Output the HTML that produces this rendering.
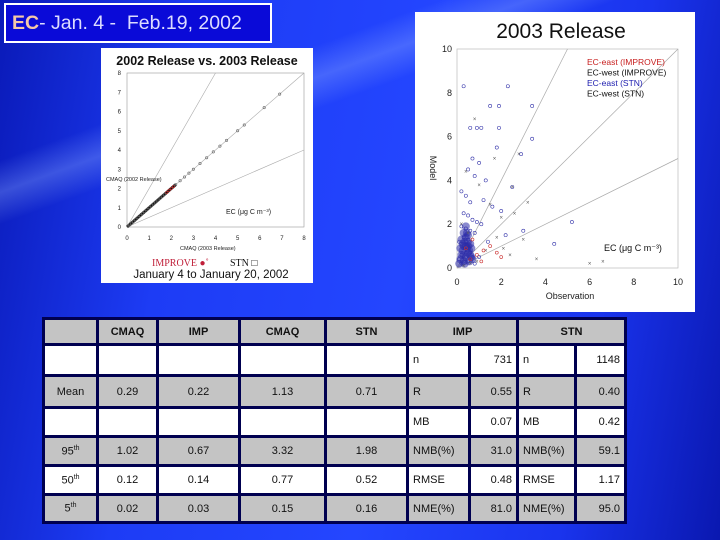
<!DOCTYPE html>
<html><head><meta charset="utf-8"><style>
body{margin:0;width:720px;height:540px;overflow:hidden;font-family:"Liberation Sans",sans-serif}
#bg{position:absolute;left:0;top:0;width:720px;height:540px;background:linear-gradient(100deg,#0a1ab8 0%,#1d3cf5 25%,#2446ff 55%,#1a34ee 80%,#0a18b0 100%)}
#streak{position:absolute;left:0;top:0;width:720px;height:540px;background:linear-gradient(160deg,rgba(255,255,255,0) 20%,rgba(140,170,255,0.35) 24%,rgba(255,255,255,0) 28%)}
#title{position:absolute;left:4px;top:3px;width:258px;height:36px;border:2px solid #fff;background:#0a0ad8;color:#dcdcff;font-size:19.5px;line-height:36px;padding-left:6px;box-sizing:content-box;white-space:nowrap}
#title b{color:#f5c8a8}
table{position:absolute;left:42px;top:317px;width:582px;height:204px;border-collapse:collapse;background:#000050;font-size:11px;color:#111;table-layout:fixed}
td{border:3px solid #000050;text-align:center;padding:0}
.g{background:#c4c4c4}.w{background:#fff}.h{font-weight:bold}
.l{text-align:left;padding-left:4px}.r{text-align:right;padding-right:4px}
</style></head><body>
<div id="bg"></div>
<div id="streak"></div>
<div id="title"><b>EC</b>- Jan. 4 -&nbsp; Feb.19, 2002</div>
<svg id="svg" width="720" height="540" style="position:absolute;left:0;top:0">
<rect x="101" y="48" width="212" height="235" fill="#fff"/>
<text x="207" y="65" font-size="12.5" text-anchor="middle" font-weight="bold" fill="#111">2002 Release vs. 2003 Release</text>
<rect x="415" y="12" width="280" height="300" fill="#fff"/>
<text x="561" y="38" font-size="21" text-anchor="middle" fill="#111">2003 Release</text>
<g id="inset"></g><g id="main"></g>
</svg>
<table>
<colgroup><col style="width:54px"><col style="width:60px"><col style="width:82px"><col style="width:86px"><col style="width:82px"><col style="width:62px"><col style="width:48px"><col style="width:58px"><col style="width:50px"></colgroup>
<tr style="height:26px" class="h"><td class="g"></td><td class="g">CMAQ</td><td class="g">IMP</td><td class="g">CMAQ</td><td class="g">STN</td><td class="g" colspan="2">IMP</td><td class="g" colspan="2">STN</td></tr>
<tr style="height:31px"><td class="w"></td><td class="w"></td><td class="w"></td><td class="w"></td><td class="w"></td><td class="w l">n</td><td class="w r">731</td><td class="w l">n</td><td class="w r">1148</td></tr>
<tr style="height:32px"><td class="g">Mean</td><td class="g">0.29</td><td class="g">0.22</td><td class="g">1.13</td><td class="g">0.71</td><td class="g l">R</td><td class="g r">0.55</td><td class="g l">R</td><td class="g r">0.40</td></tr>
<tr style="height:29px"><td class="w"></td><td class="w"></td><td class="w"></td><td class="w"></td><td class="w"></td><td class="w l">MB</td><td class="w r">0.07</td><td class="w l">MB</td><td class="w r">0.42</td></tr>
<tr style="height:29px"><td class="g">95<sup style="font-size:7px">th</sup></td><td class="g">1.02</td><td class="g">0.67</td><td class="g">3.32</td><td class="g">1.98</td><td class="g l">NMB(%)</td><td class="g r">31.0</td><td class="g l">NMB(%)</td><td class="g r">59.1</td></tr>
<tr style="height:29px"><td class="w">50<sup style="font-size:7px">th</sup></td><td class="w">0.12</td><td class="w">0.14</td><td class="w">0.77</td><td class="w">0.52</td><td class="w l">RMSE</td><td class="w r">0.48</td><td class="w l">RMSE</td><td class="w r">1.17</td></tr>
<tr style="height:28px"><td class="g">5<sup style="font-size:7px">th</sup></td><td class="g">0.02</td><td class="g">0.03</td><td class="g">0.15</td><td class="g">0.16</td><td class="g l">NME(%)</td><td class="g r">81.0</td><td class="g l">NME(%)</td><td class="g r">95.0</td></tr>
</table>
<script>
// inset data (2003 release x vs 2002 release y)
const insetTicks=[0,1,2,3,4,5,6,7,8];
const insetX=[0.05,0.1,0.2,0.3,0.4,0.5,0.6,0.7,0.8,0.9,1.0,1.1,1.2,1.3,1.4,1.5,1.6,1.7,1.8,1.9,2.0,2.1,2.2,2.4,2.6,2.8,3.0,3.3,3.6,3.9,4.2,4.5,5.0,5.3,6.2,6.9];
const insetY=[0.05,0.1,0.2,0.3,0.4,0.5,0.6,0.7,0.8,0.9,1.0,1.1,1.2,1.3,1.4,1.5,1.6,1.7,1.8,1.9,2.0,2.1,2.2,2.4,2.6,2.8,3.0,3.3,3.6,3.9,4.2,4.5,5.0,5.3,6.2,6.9];
// main chart data
const mainTicks=[0,2,4,6,8,10];
const eastStnX=[0.3,1.5,1.9,0.6,0.9,1.1,1.9,2.3,3.4,1.8,0.7,1.0,0.5,0.8,1.3,2.9,2.5,0.2,0.4,0.6,1.2,1.6,2.0,0.3,0.5,0.7,0.9,1.1,0.2,0.4,0.6,0.8,0.3,0.5,0.1,0.2,0.4,0.3,0.5,0.6,0.2,0.4,0.1,0.3,0.2,0.5,0.7,1.4,2.2,3.0,4.4,5.2,3.4,1.0,0.8];
const eastStnY=[8.3,7.4,7.4,6.4,6.4,6.4,6.4,8.3,7.4,5.5,5.0,4.8,4.5,4.2,4.0,5.2,3.7,3.5,3.3,3.0,3.1,2.8,2.6,2.5,2.4,2.2,2.1,2.0,1.9,1.8,1.7,1.6,1.4,1.3,1.2,1.1,1.0,0.9,0.8,0.7,0.6,0.5,0.4,0.3,0.2,0.3,0.5,1.2,1.5,1.7,1.1,2.1,5.9,0.5,0.2];
const westX=[0.8,1.7,2.8,2.5,3.2,0.4,1.0,1.5,2.0,2.6,3.0,3.6,6.0,6.6,0.2,0.5,1.3,2.1,2.4,1.8,0.9,0.3,0.6];
const westY=[6.8,5.0,5.2,3.7,3.0,4.4,3.8,2.9,2.3,2.5,1.3,0.4,0.2,0.3,2.0,1.6,0.8,0.9,0.6,1.4,0.3,0.1,0.2];
const eastImpX=[0.6,0.9,1.2,1.5,1.8,0.4,0.7,1.1,2.0];
const eastImpY=[0.4,0.6,0.8,1.0,0.7,0.9,1.3,0.3,0.5];
const clusterX=[0.1,0.15,0.2,0.25,0.3,0.35,0.4,0.45,0.5,0.55,0.6,0.65,0.7,0.2,0.3,0.4,0.5,0.6,0.3,0.4,0.5,0.35,0.45,0.25,0.15,0.55,0.65,0.4,0.5,0.3];
const clusterY=[0.2,0.4,0.6,0.8,1.0,1.2,1.4,1.6,1.0,0.8,0.6,0.5,0.4,1.3,1.6,1.9,1.5,1.1,0.3,0.5,0.7,0.2,0.9,1.1,0.9,0.3,0.9,1.0,1.2,0.6];
const NS='http://www.w3.org/2000/svg';
function mk(p,t,a){const e=document.createElementNS(NS,t);for(const k in a)e.setAttribute(k,a[k]);p.appendChild(e);return e;}
const ix=v=>127+v*(304-127)/8, iy=v=>227-v*(227-73)/8;
const ig=document.getElementById('inset');
let ax=mk(ig,'rect',{x:ix(0),y:iy(8),width:ix(8)-ix(0),height:iy(0)-iy(8),fill:'none',stroke:'#999','stroke-width':0.6});


insetTicks.forEach(t=>{
 let a=mk(ig,'text',{x:ix(t),y:240,'font-size':6,'text-anchor':'middle',fill:'#222'});a.textContent=t;
 
 
 let b=mk(ig,'text',{x:121,y:iy(t)+2,'font-size':6,'text-anchor':'end',fill:'#222'});b.textContent=t;
 
 
});
[[2,4],[1,8],[0.5,8]].forEach(([s,xm])=>{
 let l=mk(ig,'line',{x1:ix(0),y1:iy(0),x2:ix(Math.min(xm,8/s)),y2:iy(Math.min(xm,8/s)*s),stroke:'#aaa','stroke-width':0.6});
 
 
});
let il=mk(ig,'line',{x1:ix(0),y1:iy(0),x2:ix(2.2),y2:iy(2.2),stroke:'#111','stroke-width':3});


insetX.forEach((x,i)=>{
 let c=mk(ig,'circle',{cx:ix(x),cy:iy(insetY[i]),r:1.2,fill:'none',stroke:i>17&&i<22?'#c33':'#666','stroke-width':0.6});
 
 
});
[['CMAQ (2002 Release)',106,181,5.5,'#222','inset-y-title'],['EC (\u03bcg C m\u207b\u00b3)',226,214,7,'#222','inset-unit-label'],['CMAQ (2003 Release)',180,250,5.5,'#222','inset-x-title']].forEach(([t,x,y,s,f,n])=>{
 let e=mk(ig,'text',{x,y,'font-size':s,fill:f});e.textContent=t;
 
 
});
let lg=mk(ig,'text',{x:152,y:266,'font-size':10,'font-family':'Liberation Serif',fill:'#c0203a'});lg.textContent='IMPROVE \u25CF\u02DA';


let lg2=mk(ig,'text',{x:230,y:266,'font-size':10,'font-family':'Liberation Serif',fill:'#111'});lg2.textContent='STN \u25A1';


let dt=mk(ig,'text',{x:211,y:278,'font-size':11.5,'text-anchor':'middle',fill:'#111'});dt.textContent='January 4  to  January 20,  2002';


const mx=v=>457+v*(678-457)/10, my=v=>268-v*(268-49)/10;
const mg=document.getElementById('main');
let ma=mk(mg,'rect',{x:mx(0),y:my(10),width:mx(10)-mx(0),height:my(0)-my(10),fill:'none',stroke:'#bbb','stroke-width':0.7});


mainTicks.forEach(t=>{
 let a=mk(mg,'text',{x:mx(t),y:285,'font-size':9,'text-anchor':'middle',fill:'#222'});a.textContent=t;
 
 
 let b=mk(mg,'text',{x:452,y:my(t)+3,'font-size':9,'text-anchor':'end',fill:'#222'});b.textContent=t;
 
 
});
[2,1,0.5].forEach(s=>{
 const xe=Math.min(10,10/s);
 let l=mk(mg,'line',{x1:mx(0),y1:my(0),x2:mx(xe),y2:my(xe*s),stroke:'#aaa','stroke-width':0.7});
 
 
});
clusterX.forEach((x,i)=>{
 let c=mk(mg,'circle',{cx:mx(x),cy:my(clusterY[i]),r:4,fill:'#2a2aa8','fill-opacity':0.55});
 
 
});
eastStnX.forEach((x,i)=>{
 let c=mk(mg,'circle',{cx:mx(x),cy:my(eastStnY[i]),r:1.6,fill:'none',stroke:'#3333aa','stroke-width':0.6});
 
 
});
westX.forEach((x,i)=>{
 let t=mk(mg,'text',{x:mx(x),y:my(westY[i])+2,'font-size':6,'text-anchor':'middle',fill:'#555'});t.textContent='\u00d7';
 
 
});
eastImpX.forEach((x,i)=>{
 let c=mk(mg,'circle',{cx:mx(x),cy:my(eastImpY[i]),r:1.5,fill:'none',stroke:'#c33','stroke-width':0.6});
 
 
});
[['EC-east (IMPROVE)','#c82020'],['EC-west (IMPROVE)','#111'],['EC-east (STN)','#2020b0'],['EC-west (STN)','#111']].forEach(([t,c],i)=>{
 let e=mk(mg,'text',{x:587,y:65+i*10.5,'font-size':8.5,fill:c});e.textContent=t;
 
 
});
let u=mk(mg,'text',{x:604,y:251,'font-size':9,fill:'#111'});u.textContent='EC (\u03bcg C m\u207b\u00b3)';


let xt=mk(mg,'text',{x:570,y:299,'font-size':9,'text-anchor':'middle',fill:'#222'});xt.textContent='Observation';


let yt=mk(mg,'text',{x:430,y:168,'font-size':9,'text-anchor':'middle',fill:'#222',transform:'rotate(90 430 168)'});yt.textContent='Model';


</script>
</body></html>
